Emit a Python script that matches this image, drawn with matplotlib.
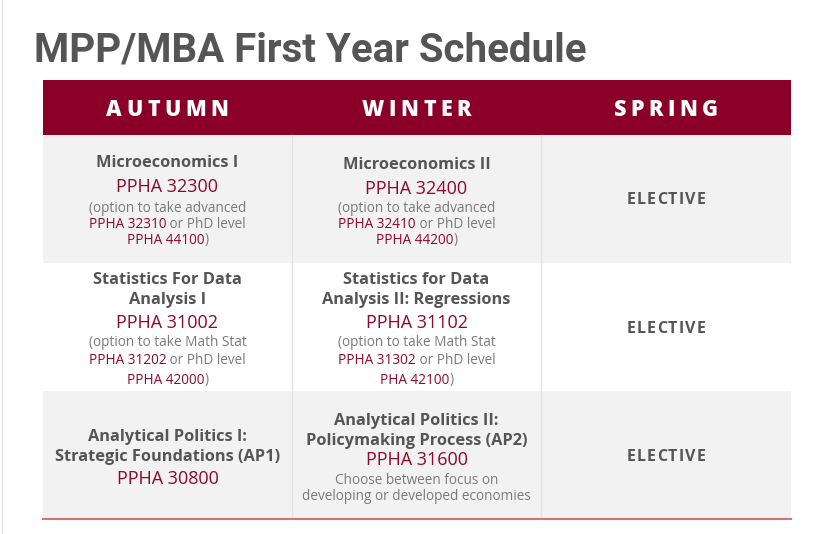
import matplotlib
matplotlib.use("Agg")
import matplotlib.pyplot as plt
from matplotlib.patches import Rectangle

# ---- data ----
chart_title = "MPP/MBA First Year Schedule"
seasons = ["AUTUMN", "WINTER", "SPRING"]

autumn_titles = ["Microeconomics I",
                 "Statistics For Data\nAnalysis I",
                 "Analytical Politics I:\nStrategic Foundations (AP1)"]
autumn_codes = ["PPHA 32300", "PPHA 31002", "PPHA 30800"]
# note lines: each line is a list of (text, is_course_code)
autumn_notes = [
    [[("(option to take advanced", False)],
     [("PPHA 32310", True), (" or PhD level", False)],
     [("PPHA 44100", True), (")", False)]],
    [[("(option to take Math Stat", False)],
     [("PPHA 31202", True), (" or PhD level", False)],
     [("PPHA 42000", True), (")", False)]],
    [],
]

winter_titles = ["Microeconomics II",
                 "Statistics for Data\nAnalysis II: Regressions",
                 "Analytical Politics II:\nPolicymaking Process (AP2)"]
winter_codes = ["PPHA 32400", "PPHA 31102", "PPHA 31600"]
winter_notes = [
    [[("(option to take advanced", False)],
     [("PPHA 32410", True), (" or PhD level", False)],
     [("PPHA 44200", True), (")", False)]],
    [[("(option to take Math Stat", False)],
     [("PPHA 31302", True), (" or PhD level", False)],
     [("PHA 42100", True), (")", False)]],
    [[("Choose between focus on", False)],
     [("developing or developed economies", False)]],
]

spring_label = "ELECTIVE"

# ---- layout (pixels) ----
W, H = 832, 534
TABLE_X0, TABLE_X1 = 43, 791
HEAD_Y0, HEAD_Y1 = 80, 135
ROW_Y = [135, 263, 391, 519]
COL_X = [43, 292, 541, 791]
ROW_BG = ["#f2f2f2", "#ffffff", "#f2f2f2"]
TEXT_DY = 2  # va="center" sits a little high, nudge everything down

# y of every line in a cell: title lines, code, note lines
autumn_line_y = [[161, 185, 206, 223, 238],
                 [278, 298, 321, 341, 359, 378],
                 [435, 455, 477]]
winter_line_y = [[163, 187, 207, 223, 238],
                 [278, 298, 321, 341, 359, 378],
                 [419, 439, 458, 479, 494]]
spring_y = [198, 327, 455]

CRIMSON = "#8a0028"
CODE_RED = "#8e0a2c"
DARK = "#555555"
LIGHT = "#7a7a7a"

BODY = ["Open Sans", "DejaVu Sans"]
HEAD = ["Open Sans", "DejaVu Sans"]

fig = plt.figure(figsize=(W / 100, H / 100), dpi=100)
ax = fig.add_axes([0, 0, 1, 1])
ax.set_xlim(0, W)
ax.set_ylim(H, 0)
ax.axis("off")
renderer = fig.canvas.get_renderer()


def draw_runs(xc, y, runs, size, weight="normal"):
    texts = []
    for s, c in runs:
        t = ax.text(0, y + TEXT_DY, s, color=c, fontsize=size, fontweight=weight,
                    family=BODY, ha="left", va="center")
        texts.append(t)
    widths = [t.get_window_extent(renderer).width for t in texts]
    x = xc - sum(widths) / 2
    for t, w in zip(texts, widths):
        t.set_x(x)
        x += w


def draw_spaced(xc, y, s, size, tracking, color, weight="bold"):
    texts = []
    for ch in s:
        t = ax.text(0, y + TEXT_DY, ch, color=color, fontsize=size, fontweight=weight,
                    family=HEAD, ha="left", va="center")
        texts.append(t)
    widths = [t.get_window_extent(renderer).width for t in texts]
    total = sum(widths) + tracking * (len(s) - 1)
    x = xc - total / 2
    for t, w in zip(texts, widths):
        t.set_x(x)
        x += w + tracking


# title
ax.text(34, 50, chart_title, fontsize=29, fontweight="bold", color=DARK,
        family=["Roboto", "DejaVu Sans"], ha="left", va="center")

# left page border
ax.plot([2, 2], [0, H], color="#e6e6e6", lw=1)

# header bar
ax.add_patch(Rectangle((TABLE_X0, HEAD_Y0), TABLE_X1 - TABLE_X0, HEAD_Y1 - HEAD_Y0,
                       color=CRIMSON, lw=0))
for i, s in enumerate(seasons):
    xc = (COL_X[i] + COL_X[i + 1]) / 2
    draw_spaced(xc, 108, s, 15.5, 4.5, "white", weight=800)

# row backgrounds and dividers
for r in range(3):
    ax.add_patch(Rectangle((TABLE_X0, ROW_Y[r]), TABLE_X1 - TABLE_X0,
                           ROW_Y[r + 1] - ROW_Y[r], color=ROW_BG[r], lw=0))
for x in COL_X[1:3]:
    ax.plot([x, x], [ROW_Y[0], ROW_Y[3]], color="#e3e3e3", lw=1)
ax.plot([TABLE_X0, TABLE_X1], [ROW_Y[3], ROW_Y[3]], color="#d37474", lw=1.5)


def draw_cell(col, title, code, notes, ys):
    xc = (COL_X[col] + COL_X[col + 1]) / 2
    k = 0
    for line in title.split("\n"):
        draw_runs(xc, ys[k], [(line, DARK)], 11.8, "bold")
        k += 1
    draw_runs(xc, ys[k], [(code, CODE_RED)], 13)
    k += 1
    for line in notes:
        runs = [(s, CODE_RED if is_code else LIGHT) for s, is_code in line]
        draw_runs(xc, ys[k], runs, 9.8)
        k += 1


for r in range(3):
    draw_cell(0, autumn_titles[r], autumn_codes[r], autumn_notes[r], autumn_line_y[r])
    draw_cell(1, winter_titles[r], winter_codes[r], winter_notes[r], winter_line_y[r])
    draw_spaced((COL_X[2] + COL_X[3]) / 2, spring_y[r], spring_label, 11.5, 1.2, DARK)

fig.savefig("out.png", dpi=100)
